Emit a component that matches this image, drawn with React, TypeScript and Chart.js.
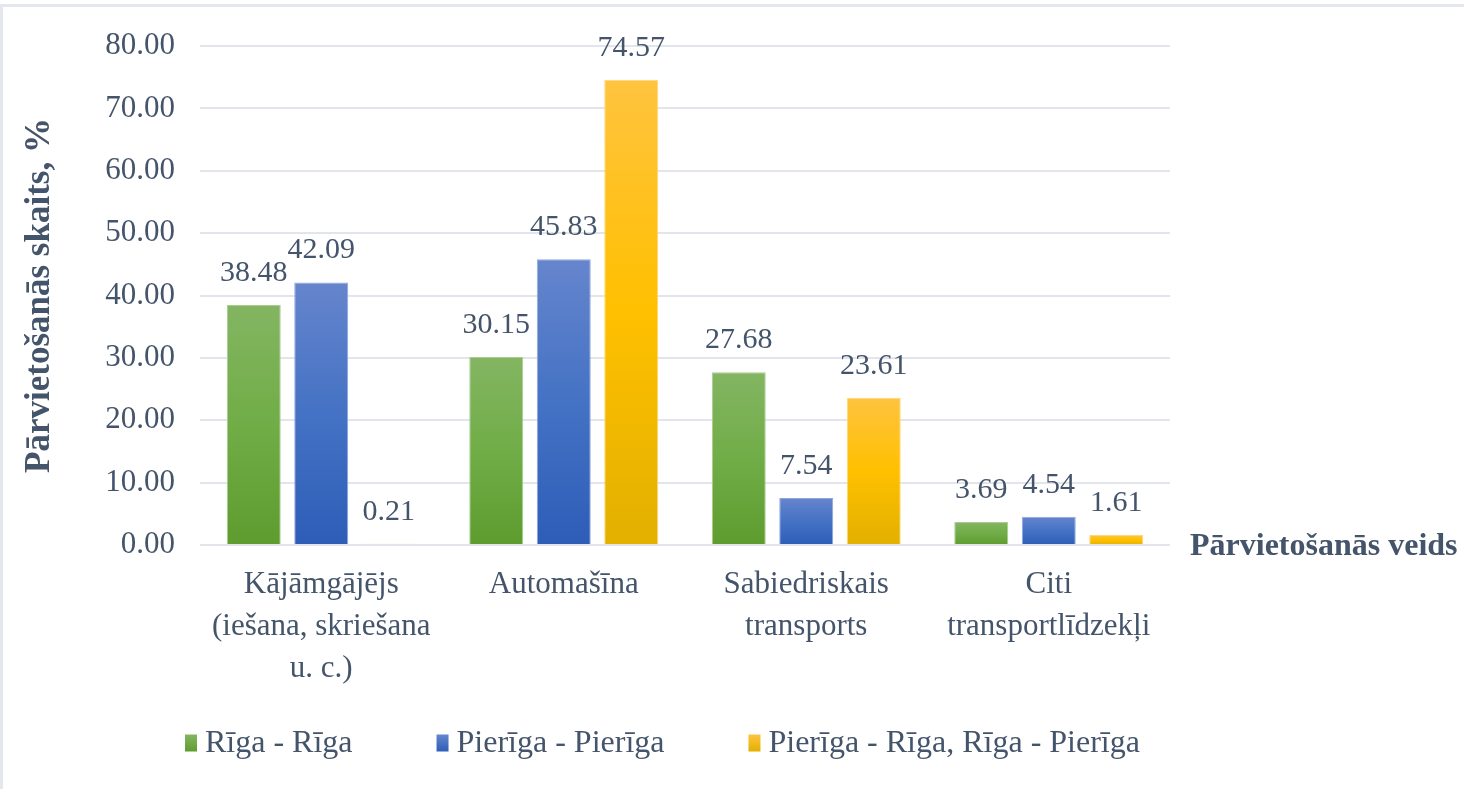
import React, { useEffect, useRef } from "react";
import { Chart, registerables } from "chart.js";

Chart.register(...registerables);

const categories: string[][] = [
  ["Kājāmgājējs", "(iešana, skriešana", "u. c.)"],
  ["Automašīna"],
  ["Sabiedriskais", "transports"],
  ["Citi", "transportlīdzekļi"],
];
const seriesNames = ["Rīga - Rīga", "Pierīga - Pierīga", "Pierīga - Rīga, Rīga - Pierīga"];
const rigaRiga = [38.48, 30.15, 27.68, 3.69];
const pierigaPieriga = [42.09, 45.83, 7.54, 4.54];
const pierigaRiga = [0.21, 74.57, 23.61, 1.61];
const yTicks = [0, 10, 20, 30, 40, 50, 60, 70, 80];
const yTitle = "Pārvietošanās skaits, %";
const xTitle = "Pārvietošanās veids";

const palette = [
  { top: "#84b562", mid: "#70ad47", bot: "#5e9c2f", border: "#a9cc91" },
  { top: "#6685cd", mid: "#4472c4", bot: "#2e5db8", border: "#8fa8dc" },
  { top: "#ffc33f", mid: "#ffc000", bot: "#e2b000", border: "#ffd873" },
];

const FONT = '"Liberation Serif", "Times New Roman", serif';
const TEXT = "#44546a";

function gradientFill(idx: number) {
  return (ctx: any) => {
    const c = palette[idx];
    const chart = ctx.chart;
    if (!chart.chartArea || ctx.type !== "data") return c.mid;
    const y = chart.scales.y;
    const yTop = y.getPixelForValue(ctx.raw);
    const yBot = y.getPixelForValue(0);
    if (!isFinite(yTop) || !isFinite(yBot) || yBot - yTop < 1) return c.mid;
    const g = chart.ctx.createLinearGradient(0, yTop, 0, yBot);
    g.addColorStop(0, c.top);
    g.addColorStop(0.5, c.mid);
    g.addColorStop(1, c.bot);
    return g;
  };
}

const labelsPlugin = {
  id: "valueLabels",
  afterDatasetsDraw(chart: any) {
    const ctx = chart.ctx;
    ctx.save();
    ctx.font = `30px ${FONT}`;
    ctx.fillStyle = TEXT;
    ctx.textAlign = "center";
    ctx.textBaseline = "alphabetic";
    chart.data.datasets.forEach((ds: any, i: number) => {
      const meta = chart.getDatasetMeta(i);
      meta.data.forEach((el: any, j: number) => {
        ctx.fillText(Number(ds.data[j]).toFixed(2), el.x, el.y - 24);
      });
    });
    ctx.restore();
  },
};

const extrasPlugin = {
  id: "extras",
  afterDraw(chart: any) {
    const ctx = chart.ctx;
    const area = chart.chartArea;
    ctx.save();
    // x-axis title at the right of the plot
    ctx.font = `bold 32px ${FONT}`;
    ctx.fillStyle = TEXT;
    ctx.textAlign = "left";
    ctx.textBaseline = "alphabetic";
    ctx.fillText(xTitle, area.right + 20, area.bottom + 10);

    // legend
    ctx.font = `32px ${FONT}`;
    const boxW = 12;
    const boxH = 17;
    const textGap = 8;
    const itemGap = 84;
    const widths = seriesNames.map((n) => boxW + textGap + ctx.measureText(n).width);
    let x = area.left - 15;
    const cy = 743;
    seriesNames.forEach((n, i) => {
      const c = palette[i];
      const g = ctx.createLinearGradient(0, cy - boxH / 2, 0, cy + boxH / 2);
      g.addColorStop(0, c.top);
      g.addColorStop(1, c.bot);
      ctx.fillStyle = g;
      ctx.fillRect(x, cy - boxH / 2, boxW, boxH);
      ctx.fillStyle = TEXT;
      ctx.textBaseline = "middle";
      ctx.fillText(n, x + boxW + textGap, cy + 1);
      x += widths[i] + itemGap;
    });
    ctx.restore();
  },
};

export default function App() {
  const ref = useRef<HTMLCanvasElement | null>(null);

  useEffect(() => {
    if (!ref.current) return;
    const datasets = [rigaRiga, pierigaPieriga, pierigaRiga].map((d, i) => ({
      label: seriesNames[i],
      data: d,
      backgroundColor: gradientFill(i),
      borderColor: palette[i].border,
      borderWidth: 1,
      categoryPercentage: 0.835,
      barPercentage: 0.8,
    }));
    const chart = new Chart(ref.current, {
      type: "bar",
      data: { labels: categories as any, datasets },
      plugins: [labelsPlugin, extrasPlugin],
      options: {
        animation: false,
        responsive: true,
        maintainAspectRatio: false,
        layout: { padding: { top: 46, right: 294, bottom: 99, left: 0 } },
        plugins: {
          legend: { display: false },
          tooltip: { enabled: false },
        },
        scales: {
          x: {
            grid: { display: false, drawTicks: false },
            border: { display: false },
            ticks: {
              color: TEXT,
              font: { family: FONT, size: 31, lineHeight: 1.35 },
              padding: 19,
              maxRotation: 0,
              autoSkip: false,
            },
            afterFit(scale: any) {
              scale.height = 145;
            },
          },
          y: {
            min: 0,
            max: 80,
            afterBuildTicks(scale: any) {
              scale.ticks = yTicks.map((v) => ({ value: v }));
            },
            grid: { color: "#e2e6ec", lineWidth: 2, drawTicks: false },
            border: { display: false },
            ticks: {
              color: TEXT,
              font: { family: FONT, size: 31 },
              padding: 25,
              callback: (v: any) => Number(v).toFixed(2),
            },
            title: {
              display: true,
              text: yTitle,
              color: TEXT,
              font: { family: FONT, size: 35, weight: "bold" },
              padding: { top: 19, bottom: 0 },
            },
            afterFit(scale: any) {
              scale.width = 200;
            },
          },
        },
      },
    });
    return () => chart.destroy();
  }, []);

  return (
    <div
      style={{
        position: "fixed",
        left: 0,
        top: 0,
        width: 1464,
        height: 789,
        background: "#ffffff",
      }}
    >
      <canvas ref={ref} />
      <div
        style={{
          position: "absolute",
          left: 0,
          top: 4,
          width: 1464,
          height: 785,
          borderTop: "3px solid #e4e8ee",
          borderLeft: "3px solid #e4e8ee",
          boxSizing: "border-box",
          pointerEvents: "none",
        }}
      />
    </div>
  );
}
